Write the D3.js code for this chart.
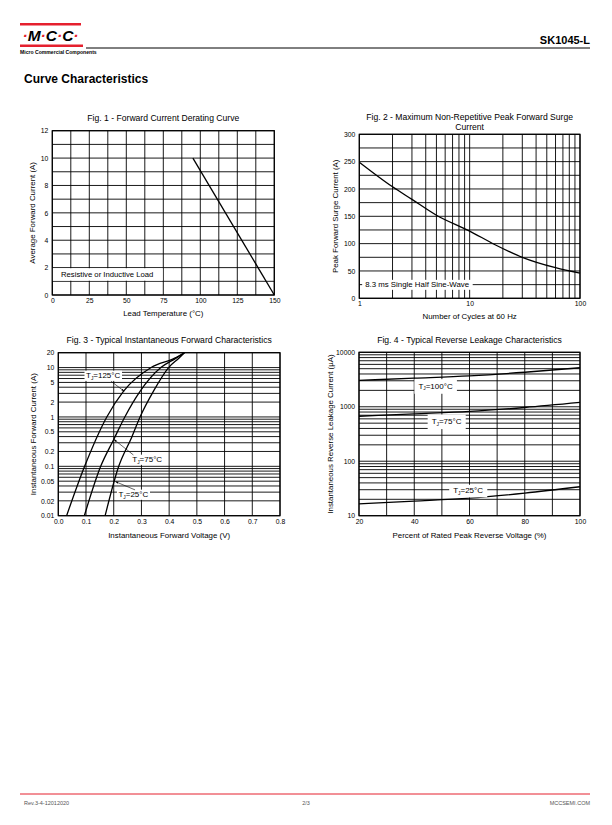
<!DOCTYPE html>
<html>
<head>
<meta charset="utf-8">
<script src="https://cdn.jsdelivr.net/npm/d3@7"></script>
<style>
  body { margin: 0; background: #fff; }
  svg { font-family: "Liberation Sans", Arial, sans-serif; }
</style>
</head>
<body>
<div class="chart"></div>
<script>
// Fig. 1 - derating
var fig1Temp = [95, 150];
var fig1Current = [10, 0];
var fig1XTicks = [0, 25, 50, 75, 100, 125, 150];
var fig1YTicks = [0, 2, 4, 6, 8, 10, 12];

// Fig. 2 - surge current
var fig2Cycles = [1, 2, 3, 5, 10, 17, 30, 60, 100];
var fig2Surge = [249, 204, 181, 152, 123, 98, 75, 56, 46];
var fig2XTicks = [1, 10, 100];
var fig2YTicks = [0, 50, 100, 150, 200, 250, 300];

// Fig. 3 - forward characteristics
var fig3V125 = [0.030, 0.095, 0.175, 0.235, 0.335, 0.42, 0.455];
var fig3I125 = [0.01, 0.1, 1, 3.3, 10, 15.5, 20];
var fig3V75 = [0.094, 0.153, 0.200, 0.240, 0.295, 0.370, 0.425, 0.455];
var fig3I75 = [0.01, 0.1, 0.35, 1, 3.3, 10, 15.5, 20];
var fig3V25 = [0.169, 0.218, 0.265, 0.295, 0.343, 0.398, 0.435, 0.455];
var fig3I25 = [0.01, 0.1, 0.39, 1, 3.3, 10, 15.5, 20];
var fig3XTicks = [0, 0.1, 0.2, 0.3, 0.4, 0.5, 0.6, 0.7, 0.8];
var fig3YTicks = [0.01, 0.02, 0.05, 0.1, 0.2, 0.5, 1, 2, 5, 10, 20];

// Fig. 4 - reverse leakage
var fig4Pct = [20, 40, 60, 80, 100];
var fig4T100 = [3050, 3350, 3700, 4300, 5200];
var fig4T75 = [670, 740, 820, 970, 1200];
var fig4T25 = [16.5, 18.5, 21, 26, 34];
var fig4XTicks = [20, 40, 60, 80, 100];
var fig4YTicks = [10, 100, 1000, 10000];

var svg = d3.select(".chart").append("svg")
  .attr("width", 612).attr("height", 825);

// header
var red = "#e5202e";
svg.append("rect").attr("x", 20).attr("y", 23).attr("width", 61).attr("height", 2.5).attr("fill", red);
svg.append("rect").attr("x", 20).attr("y", 44.5).attr("width", 63).attr("height", 2.5).attr("fill", red);
var logo = svg.append("text").attr("x", 50.5).attr("y", 41).attr("text-anchor", "middle")
  .attr("font-size", 15.5).attr("font-weight", "bold").attr("font-style", "italic");
["·", "M", "·", "C", "·", "C", "·"].forEach(function(c, i) {
  logo.append("tspan").text(c).attr("fill", i % 2 === 0 ? red : "#000");
});
svg.append("text").attr("x", 20).attr("y", 54).attr("font-size", 5.1).attr("font-weight", "bold")
  .text("Micro Commercial Components");
svg.append("line").attr("x1", 86).attr("x2", 590).attr("y1", 48).attr("y2", 48)
  .attr("stroke", "#000").attr("stroke-width", 1);
svg.append("text").attr("x", 590).attr("y", 44).attr("text-anchor", "end")
  .attr("font-size", 11).attr("font-weight", "bold").text("SK1045-L");
svg.append("text").attr("x", 24).attr("y", 82.5).attr("font-size", 12).attr("font-weight", "bold")
  .text("Curve Characteristics");

// footer
svg.append("line").attr("x1", 20).attr("x2", 590).attr("y1", 794).attr("y2", 794)
  .attr("stroke", red).attr("stroke-width", 1);
svg.append("text").attr("x", 24).attr("y", 805).attr("font-size", 5.5).attr("fill", "#555").text("Rev.3-4-12012020");
svg.append("text").attr("x", 306).attr("y", 805).attr("font-size", 5.5).attr("fill", "#555").attr("text-anchor", "middle").text("2/3");
svg.append("text").attr("x", 590).attr("y", 805).attr("font-size", 5.5).attr("fill", "#555").attr("text-anchor", "end").text("MCCSEMI.COM");

function logGrid(lo, hi) {
  var out = [];
  for (var d = Math.pow(10, Math.floor(Math.log10(lo))); d < hi * 1.0001; d *= 10) {
    for (var k = 1; k < 10; k++) {
      var v = d * k;
      if (v >= lo * 0.9999 && v <= hi * 1.0001) out.push(v);
    }
  }
  return out;
}

function panel(o) {
  var g = svg.append("g");
  var x = o.x, y = o.y;
  var r = x.range(), ry = y.range();
  // grid
  g.selectAll(".gx").data(o.xGrid).enter().append("line")
    .attr("x1", d => x(d)).attr("x2", d => x(d)).attr("y1", ry[0]).attr("y2", ry[1])
    .attr("stroke", "#000").attr("stroke-width", 0.9);
  g.selectAll(".gy").data(o.yGrid).enter().append("line")
    .attr("y1", d => y(d)).attr("y2", d => y(d)).attr("x1", r[0]).attr("x2", r[1])
    .attr("stroke", "#000").attr("stroke-width", 0.9);
  g.append("rect").attr("x", r[0]).attr("y", ry[1]).attr("width", r[1] - r[0]).attr("height", ry[0] - ry[1])
    .attr("fill", "none").attr("stroke", "#000").attr("stroke-width", 1.2);
  // axes labels
  var xa = d3.axisBottom(x).tickValues(o.xTicks).tickSize(0).tickPadding(3).tickFormat(o.xFmt);
  var ya = d3.axisLeft(y).tickValues(o.yTicks).tickSize(0).tickPadding(4).tickFormat(o.yFmt);
  var gx = g.append("g").attr("transform", "translate(0," + ry[0] + ")").call(xa);
  var gy = g.append("g").attr("transform", "translate(" + r[0] + ",0)").call(ya);
  [gx, gy].forEach(function(a) {
    a.select(".domain").remove();
    a.selectAll("text").attr("font-size", 6.8).attr("fill", "#000")
      .attr("font-family", "Liberation Sans, Arial, sans-serif");
  });
  // titles
  o.title.forEach(function(t, i) {
    g.append("text").attr("x", (r[0] + r[1]) / 2).attr("y", o.titleY + i * 9.5)
      .attr("text-anchor", "middle").attr("font-size", 8.6).text(t);
  });
  g.append("text").attr("x", (r[0] + r[1]) / 2).attr("y", o.xTitleY)
    .attr("text-anchor", "middle").attr("font-size", 7.9).text(o.xTitle);
  g.append("text").attr("transform", "translate(" + o.yTitleX + "," + (ry[0] + ry[1]) / 2 + ") rotate(-90)")
    .attr("text-anchor", "middle").attr("font-size", 7.9).text(o.yTitle);
  // curves
  o.series.forEach(function(s) {
    var pts = s.xs.map((v, i) => [v, s.ys[i]]);
    g.append("path").datum(pts)
      .attr("d", d3.line().x(d => x(d[0])).y(d => y(d[1])).curve(s.curve || d3.curveMonotoneX))
      .attr("fill", "none").attr("stroke", "#000").attr("stroke-width", 1.3);
  });
  return g;
}

function label(g, px, py, parts, padX, padY, size) {
  var t = g.append("text").attr("x", px).attr("y", py).attr("font-size", size || 8);
  parts.forEach(function(p) {
    var ts = t.append("tspan").text(p.t);
    if (p.sub) ts.attr("font-size", 4.8).attr("dy", 1.6);
    if (p.after) ts.attr("dy", -1.6);
  });
  var b = t.node().getBBox();
  g.insert("rect", function() { return t.node(); })
    .attr("x", b.x - padX).attr("y", b.y - padY).attr("width", b.width + 2 * padX).attr("height", b.height + 2 * padY)
    .attr("fill", "#fff");
  return t;
}

function tj(temp) {
  return [{ t: "T" }, { t: "J", sub: true }, { t: "=" + temp + "°C", after: true }];
}

// Fig 1
var x1 = d3.scaleLinear().domain([0, 150]).range([52.3, 274.3]);
var y1 = d3.scaleLinear().domain([0, 12]).range([295, 130.7]);
var g1 = panel({
  x: x1, y: y1,
  xGrid: d3.range(0, 151, 12.5), yGrid: d3.range(0, 13, 1),
  xTicks: fig1XTicks, yTicks: fig1YTicks, xFmt: d3.format("d"), yFmt: d3.format("d"),
  title: ["Fig. 1 - Forward Current Derating Curve"], titleY: 121,
  xTitle: "Lead Temperature (°C)", xTitleY: 316,
  yTitle: "Average Forward Current (A)", yTitleX: 35,
  series: [{ xs: fig1Temp, ys: fig1Current, curve: d3.curveLinear }]
});
g1.insert("rect", "path").attr("x", x1(0) + 0.6).attr("y", y1(2) + 0.6)
  .attr("width", x1(75) - x1(0) - 1.2).attr("height", y1(1) - y1(2) - 1.2).attr("fill", "#fff");
g1.append("text").attr("x", x1(5.9)).attr("y", y1(1.3)).attr("font-size", 7.7).text("Resistive or Inductive Load");

// Fig 2
var x2 = d3.scaleLog().domain([1, 100]).range([359.3, 580]);
var y2 = d3.scaleLinear().domain([0, 300]).range([298.3, 134.3]);
var g2 = panel({
  x: x2, y: y2,
  xGrid: logGrid(1, 100), yGrid: d3.range(0, 301, 25),
  xTicks: fig2XTicks, yTicks: fig2YTicks, xFmt: d3.format("d"), yFmt: d3.format("d"),
  title: ["Fig. 2 - Maximum Non-Repetitive Peak Forward Surge", "Current"], titleY: 120,
  xTitle: "Number of Cycles at 60 Hz", xTitleY: 319,
  yTitle: "Peak Forward Surge Current (A)", yTitleX: 338,
  series: [{ xs: fig2Cycles, ys: fig2Surge }]
});
label(g2, x2(1.13), y2(25) + 2.7, [{ t: "8.3 ms Single Half Sine-Wave" }], 3, 0.5, 7.85);

// Fig 3
var x3 = d3.scaleLinear().domain([0, 0.8]).range([58.3, 280]);
var y3 = d3.scaleLog().domain([0.01, 20]).range([515.7, 352.7]);
var g3 = panel({
  x: x3, y: y3,
  xGrid: d3.range(0, 0.81, 0.1), yGrid: logGrid(0.01, 20),
  xTicks: fig3XTicks, yTicks: fig3YTicks, xFmt: d3.format(".1f"), yFmt: d => String(+d.toPrecision(2)),
  title: ["Fig. 3 - Typical Instantaneous Forward Characteristics"], titleY: 343,
  xTitle: "Instantaneous Forward Voltage (V)", xTitleY: 538,
  yTitle: "Instantaneous Forward Current (A)", yTitleX: 36,
  series: [
    { xs: fig3V125, ys: fig3I125 },
    { xs: fig3V75, ys: fig3I75 },
    { xs: fig3V25, ys: fig3I25 }
  ]
});
svg.append("defs").append("marker").attr("id", "arr").attr("viewBox", "0 0 10 10")
  .attr("refX", 10).attr("refY", 5).attr("markerWidth", 5).attr("markerHeight", 5).attr("orient", "auto")
  .append("path").attr("d", "M0,1.5 L10,5 L0,8.5 Z").attr("fill", "#000");
function arrow(g, a, b) {
  g.append("line").attr("x1", x3(a[0])).attr("y1", y3(a[1])).attr("x2", x3(b[0])).attr("y2", y3(b[1]))
    .attr("stroke", "#000").attr("stroke-width", 0.6).attr("marker-end", "url(#arr)");
}
label(g3, x3(0.1), y3(6.15), tj(125), 1.5, 0.3);
arrow(g3, [0.19, 5.3], [0.238, 3.3]);
label(g3, x3(0.267), y3(0.1225), tj(75), 1.5, 0.3);
arrow(g3, [0.271, 0.17], [0.2, 0.353]);
label(g3, x3(0.217), y3(0.024), tj(25), 1.5, 0.3);
arrow(g3, [0.277, 0.0333], [0.206, 0.049]);

// Fig 4
var x4 = d3.scaleLinear().domain([20, 100]).range([359, 580]);
var y4 = d3.scaleLog().domain([10, 10000]).range([515.7, 352.3]);
var g4 = panel({
  x: x4, y: y4,
  xGrid: d3.range(20, 101, 10), yGrid: logGrid(10, 10000),
  xTicks: fig4XTicks, yTicks: fig4YTicks, xFmt: d3.format("d"), yFmt: d3.format("d"),
  title: ["Fig. 4 - Typical Reverse Leakage Characteristics"], titleY: 343,
  xTitle: "Percent of Rated Peak Reverse Voltage (%)", xTitleY: 538,
  yTitle: "Instantaneous Reverse Leakage Current (µA)", yTitleX: 333,
  series: [
    { xs: fig4Pct, ys: fig4T100 },
    { xs: fig4Pct, ys: fig4T75 },
    { xs: fig4Pct, ys: fig4T25 }
  ]
});
label(g4, x4(41.5), y4(2150), tj(100), 4, 2.5);
label(g4, x4(46.3), y4(483), tj(75), 4, 2.5);
label(g4, x4(54.1), y4(25.8), tj(25), 4, 1.5);
</script>
</body>
</html>
